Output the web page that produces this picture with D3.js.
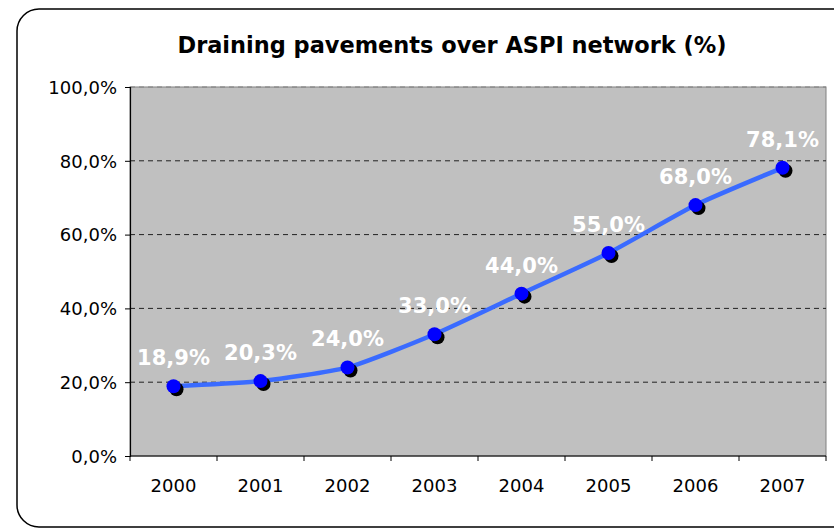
<!DOCTYPE html>
<html>
<head>
<meta charset="utf-8">
<script src="https://cdn.jsdelivr.net/npm/d3@7"></script>
<style>
  body { margin: 0; background: #fff; }
</style>
</head>
<body>
<div id="chart"></div>
<script>
var years = ["2000", "2001", "2002", "2003", "2004", "2005", "2006", "2007"];
var values = [18.9, 20.3, 24.0, 33.0, 44.0, 55.0, 68.0, 78.1];
var yTicks = [0, 20, 40, 60, 80, 100];

var W = 834, H = 530;
var margin = {top: 87, right: 8, bottom: 74, left: 130},
    width = W - margin.left - margin.right,
    height = H - margin.top - margin.bottom;

var fmt = function(v) { return v.toFixed(1).replace(".", ",") + "%"; };

var svg = d3.select("#chart").append("svg")
    .attr("width", W)
    .attr("height", H);

// outer frame
svg.append("rect")
    .attr("x", 17).attr("y", 9)
    .attr("width", 840).attr("height", 518)
    .attr("rx", 22).attr("ry", 22)
    .attr("fill", "#fff")
    .attr("stroke", "#000")
    .attr("stroke-width", 1.5);

svg.append("text")
    .attr("x", 452).attr("y", 53)
    .attr("text-anchor", "middle")
    .attr("font-family", "DejaVu Sans")
    .attr("font-weight", "bold")
    .attr("font-size", 23)
    .attr("textLength", 549)
    .attr("lengthAdjust", "spacingAndGlyphs")
    .text("Draining pavements over ASPI network (%)");

var g = svg.append("g")
    .attr("transform", "translate(" + margin.left + "," + margin.top + ")");

var x = d3.scaleBand().domain(years).range([0, width]);
var y = d3.scaleLinear().domain([0, 100]).range([height, 0]);

// plot area
g.append("rect")
    .attr("width", width).attr("height", height)
    .attr("fill", "#c0c0c0")
    .attr("stroke", "#808080")
    .attr("stroke-width", 1);

// dashed gridlines
g.selectAll(".grid")
    .data(yTicks.filter(function(d) { return d > 0; }))
  .enter().append("line")
    .attr("class", "grid")
    .attr("x1", 0).attr("x2", width)
    .attr("y1", function(d) { return y(d); })
    .attr("y2", function(d) { return y(d); })
    .attr("stroke", function(d) { return d == 100 ? "#808080" : "#222"; })
    .attr("stroke-dasharray", "5,4")
    .attr("stroke-width", 1);

// y axis
var yAxis = d3.axisLeft(y).tickValues(yTicks).tickSize(5).tickFormat(fmt);
var ya = g.append("g").call(yAxis);
ya.select(".domain").attr("stroke", "#000").attr("stroke-width", 1.2);
ya.selectAll(".tick line").attr("stroke", "#000");
ya.selectAll("text")
    .attr("font-family", "DejaVu Sans")
    .attr("font-size", 18)
    .attr("fill", "#000")
    .attr("x", -13)
    .attr("dy", "0.35em");

// x axis with ticks at band edges
var xa = g.append("g").attr("transform", "translate(0," + height + ")");
xa.append("line")
    .attr("x1", 0).attr("x2", width)
    .attr("stroke", "#000").attr("stroke-width", 1.2);
xa.selectAll(".xt")
    .data(d3.range(years.length + 1))
  .enter().append("line")
    .attr("x1", function(i) { return i * x.bandwidth(); })
    .attr("x2", function(i) { return i * x.bandwidth(); })
    .attr("y1", 0).attr("y2", 5)
    .attr("stroke", "#000");
xa.selectAll(".xl")
    .data(years)
  .enter().append("text")
    .attr("x", function(d) { return x(d) + x.bandwidth() / 2; })
    .attr("y", 36)
    .attr("text-anchor", "middle")
    .attr("font-family", "DejaVu Sans")
    .attr("font-size", 18)
    .text(function(d) { return d; });

var data = years.map(function(yr, i) { return {year: yr, value: values[i]}; });
var cx = function(d) { return x(d.year) + x.bandwidth() / 2; };

var line = d3.line()
    .x(cx)
    .y(function(d) { return y(d.value); })
    .curve(d3.curveCardinal.tension(0.4));

g.append("path")
    .datum(data)
    .attr("d", line)
    .attr("fill", "none")
    .attr("stroke", "#3a6bff")
    .attr("stroke-width", 4.5);

// marker shadows
g.selectAll(".shadow")
    .data(data)
  .enter().append("circle")
    .attr("cx", function(d) { return cx(d) + 3; })
    .attr("cy", function(d) { return y(d.value) + 3; })
    .attr("r", 7)
    .attr("fill", "#000");

g.selectAll(".dot")
    .data(data)
  .enter().append("circle")
    .attr("cx", cx)
    .attr("cy", function(d) { return y(d.value); })
    .attr("r", 7)
    .attr("fill", "#0000ff");

g.selectAll(".lbl")
    .data(data)
  .enter().append("text")
    .attr("x", cx)
    .attr("y", function(d) { return y(d.value) - 21; })
    .attr("text-anchor", "middle")
    .attr("font-family", "DejaVu Sans")
    .attr("font-weight", "bold")
    .attr("font-size", 21)
    .attr("fill", "#fff")
    .text(function(d) { return fmt(d.value); });
</script>
</body>
</html>
